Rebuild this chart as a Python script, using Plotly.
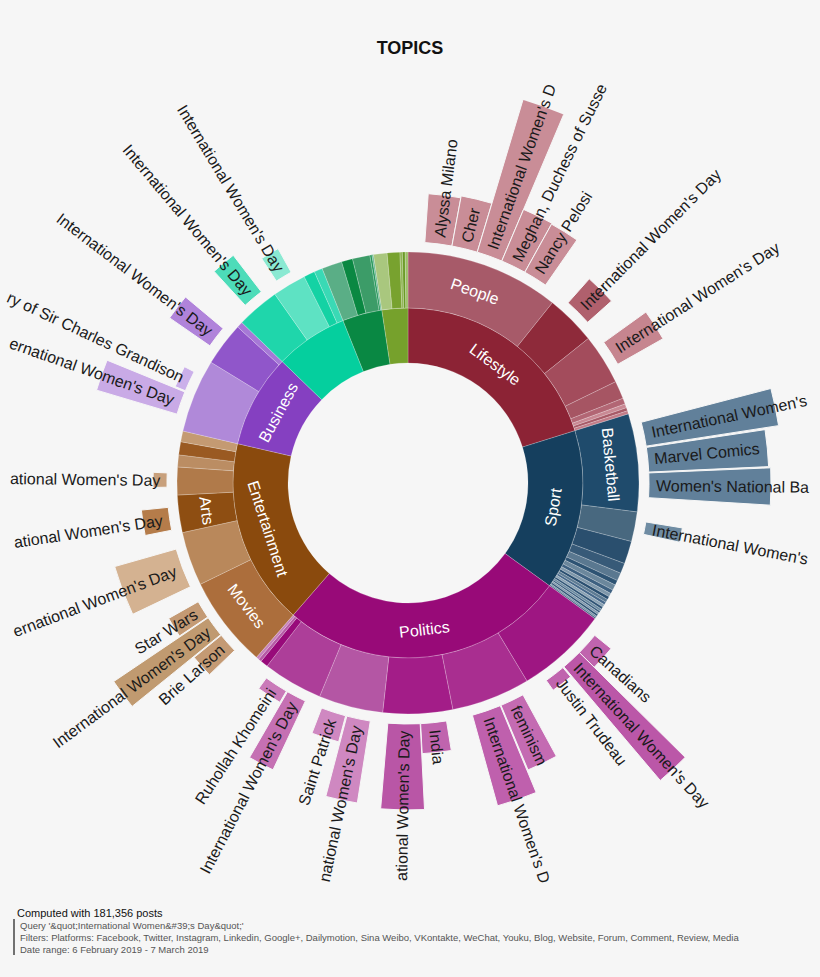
import math
import plotly.graph_objects as go

# ---------------- data ----------------
cat_labels = ["Lifestyle", "Sport", "Politics", "Entertainment", "Business", "", "", ""]
cat_values = [72.6, 53.4, 95.0, 62.0, 31.0, 24.2, 13.2, 8.6]
cat_colors = ["#8c2335", "#153f5e", "#980a78", "#8a4a0d", "#8540c1", "#05cf9e", "#098843", "#76a12c"]

sub_parent = [0] * 8 + [1] * 20 + [2] * 8 + [3] * 7 + [4] * 3 + [5] * 4 + [6] * 5 + [7] * 5
sub_labels = (["People", "", "", "", "", "", "", ""]
              + ["Basketball"] + [""] * 19
              + [""] * 8
              + ["Movies", "", "Arts", "", "", "", ""]
              + [""] * 3 + [""] * 4 + [""] * 5 + [""] * 5)
sub_values = ([38.7, 12.6, 12.7, 4.5, 1.5, 1.0, 0.8, 0.8]
              + [24.6, 7.5, 5.7, 2.6, 2.0, 1.2, 1.4, 1.0, 0.9, 0.8, 0.8, 0.7, 0.7, 0.6, 0.6, 0.5, 0.5, 0.5, 0.4, 0.4]
              + [23.0, 19.8, 17.5, 16.2, 15.1, 1.9, 0.8, 0.7]
              + [23.0, 13.6, 9.4, 7.0, 3.0, 3.3, 2.7]
              + [18.5, 11.0, 1.5]
              + [10.8, 8.5, 2.8, 2.1]
              + [5.1, 2.8, 4.4, 0.5, 0.4]
              + [3.4, 3.2, 0.6, 0.7, 0.7])
sub_colors = (["#a75a69", "#8e2a3a", "#a34c5c", "#a65563", "#b26674", "#c98994", "#a85a67", "#c27c88"]
              + ["#1f4b6c", "#48687f", "#2a4f6e", "#375a78", "#5a7890", "#2d5373", "#6b879c", "#3d6080",
                 "#7e97aa", "#2a4f70", "#5d7b93", "#46688a", "#8aa2b4", "#2f5475", "#6a8aa0", "#3a5d7e",
                 "#8099ad", "#2c5172", "#6f8ca2", "#4a6b89"]
              + ["#9e1682", "#a92e90", "#a31d88", "#b456a4", "#ad3e99", "#980a7a", "#b65aa6", "#c783bb"]
              + ["#ac6e3c", "#b9885b", "#8e4e12", "#b07a4a", "#bb8d63", "#9a5a22", "#c49a72"]
              + ["#b089d9", "#9056ca", "#a678d6"]
              + ["#1fd6ab", "#5ee2c3", "#14d2a4", "#3ad9b5"]
              + ["#5aae86", "#0a8842", "#3c9c68", "#1f9556", "#6ab892"]
              + ["#a9c77e", "#78a22f", "#8fb453", "#6a9a25", "#9cbf66"])

outer_labels = ["Alyssa Milano", "Cher", "International Women's D", "Meghan, Duchess of Susse", "Nancy Pelosi",
                "International Women's Day", "International Women's Day",
                "International Women's", "Marvel Comics", "Women's National Ba", "International Women's",
                "Canadians", "International Women's Day", "Justin Trudeau",
                "feminism", "International Women's D", "India", "ational Women's Day",
                "national Women's Day", "Saint Patrick", "International Women's Day", "Ruhollah Khomeini",
                "Brie Larson", "International Women's Day", "Star Wars",
                "ernational Women's Day", "ational Women's Day", "ational Women's Day",
                "ernational Women's Day", "ry of Sir Charles Grandison", "International Women's Day",
                "International Women's Day", "International Women's Day"]
outer_start = [4.0, 10.5, 16.7, 22.9, 29.0,
               41.6, 54.3,
               75.4, 81.5, 87.6, 99.3,
               129.2, 134.7, 140.0,
               151.5, 157.5, 170.8, 177.1,
               189.0, 195.0, 205.2, 210.3,
               226.0, 231.0, 236.2,
               244.5, 258.7, 269.0,
               286.6, 292.5, 304.7,
               317.5, 326.9]
outer_span = [6.5, 6.2, 6.2, 6.1, 5.8,
              6.6, 6.2,
              5.8, 5.9, 5.9, 3.0,
              5.5, 5.0, 5.0,
              5.8, 7.0, 6.2, 7.7,
              5.7, 6.0, 4.8, 5.7,
              4.8, 5.0, 4.3,
              9.6, 5.5, 3.4,
              5.6, 5.0, 5.2,
              5.0, 4.1]
outer_size = [49, 51, 164, 56, 55,
              32, 52,
              134, 120, 122, 37,
              21, 149, 12,
              70, 94, 30, 86,
              83, 27, 76, 13,
              35, 114, 34,
              64, 27, 14,
              84, 11, 49,
              46, 27]
outer_colors = ["#c98d97", "#c98d97", "#c98d97", "#c98d97", "#c98d97",
                "#b0606d", "#c6858f",
                "#61809a", "#61809a", "#61809a", "#6f8ca3",
                "#c064ae", "#bb57a8", "#c064ae",
                "#c46bb2", "#bf60ad", "#c064ae", "#b956a6",
                "#cf88c1", "#cf88c1", "#c570b3", "#ca7ab9",
                "#c49a74", "#c09a70", "#c49a74",
                "#d4b291", "#b57c4a", "#c8a07c",
                "#c9aae6", "#cbb0ea", "#b083da",
                "#4ddcb9", "#8ae9d2"]

# ---------------- geometry ----------------
W, H = 820, 977
CX, CY = 408, 483
RMAX = 400
R0, R1, R2, R3 = 120, 175, 231, 241
TEXT_START = 248
BG = "#f6f6f6"
FONT = "Liberation Sans, Arial, Helvetica, sans-serif"

ARIAL = {' ': 278, '!': 278, '"': 355, '#': 556, '&': 667, "'": 191, '(': 333, ')': 333, '+': 584, ',': 278,
         '-': 333, '.': 278, '/': 278, ':': 278, ';': 278,
         'A': 667, 'B': 667, 'C': 722, 'D': 722, 'E': 667, 'F': 611, 'G': 778, 'H': 722, 'I': 278, 'J': 500,
         'K': 667, 'L': 556, 'M': 833, 'N': 722, 'O': 778, 'P': 667, 'Q': 778, 'R': 722, 'S': 667, 'T': 611,
         'U': 722, 'V': 667, 'W': 944, 'X': 667, 'Y': 667, 'Z': 611,
         'a': 556, 'b': 556, 'c': 500, 'd': 556, 'e': 556, 'f': 278, 'g': 556, 'h': 556, 'i': 222, 'j': 222,
         'k': 500, 'l': 222, 'm': 833, 'n': 556, 'o': 556, 'p': 556, 'q': 556, 'r': 333, 's': 500, 't': 278,
         'u': 556, 'v': 500, 'w': 722, 'x': 500, 'y': 500, 'z': 500}


def text_width(s, size):
    return sum(ARIAL.get(c, 556) for c in s) * size / 1000.0


def to_paper(r, theta):
    t = math.radians(theta)
    x = CX + r * math.sin(t)
    y = CY - r * math.cos(t)
    return x / W, 1 - y / H


def cum_centers(values):
    centers, starts = [], []
    acc = 0.0
    for v in values:
        starts.append(acc)
        centers.append(acc + v / 2.0)
        acc += v
    return starts, centers


def tangential_angle(theta):
    a = theta % 360
    if 90 < a < 270:
        return a - 180
    if a >= 270:
        return a - 360
    return a


def radial_angle(theta):
    a = theta % 360
    return a - 90 if a <= 180 else a - 270


fig = go.Figure()

# ring 1
_, c1 = cum_centers(cat_values)
fig.add_trace(go.Barpolar(theta=c1, width=cat_values, r=[R1 - R0] * len(cat_values), base=R0,
                          marker=dict(color=cat_colors, line=dict(color="rgba(255,255,255,0.35)", width=0.6)),
                          hoverinfo="skip", showlegend=False))
# ring 2
_, c2 = cum_centers(sub_values)
fig.add_trace(go.Barpolar(theta=c2, width=sub_values, r=[R2 - R1] * len(sub_values), base=R1,
                          marker=dict(color=sub_colors, line=dict(color="rgba(255,255,255,0.35)", width=0.6)),
                          hoverinfo="skip", showlegend=False))
# outer label boxes
c3 = [s + w / 2.0 for s, w in zip(outer_start, outer_span)]
fig.add_trace(go.Barpolar(theta=c3, width=outer_span, r=outer_size, base=R3,
                          marker=dict(color=outer_colors, line=dict(color=BG, width=1)),
                          hoverinfo="skip", showlegend=False))

annotations = []
# inner labels
for labels, centers, rad in ((cat_labels, c1, (R0 + R1) / 2.0), (sub_labels, c2, (R1 + R2) / 2.0)):
    for lab, th in zip(labels, centers):
        if not lab:
            continue
        x, y = to_paper(rad, th)
        annotations.append(dict(x=x, y=y, xref="paper", yref="paper", text=lab, showarrow=False,
                                textangle=tangential_angle(th), xanchor="center", yanchor="middle",
                                font=dict(family=FONT, size=16, color="white")))
# outer labels
for lab, th in zip(outer_labels, c3):
    w = text_width(lab, 16)
    x, y = to_paper(TEXT_START + w / 2.0, th)
    annotations.append(dict(x=x, y=y, xref="paper", yref="paper", text=lab, showarrow=False,
                            textangle=radial_angle(th), xanchor="center", yanchor="middle",
                            font=dict(family=FONT, size=16, color="#1a1a1a")))

# footnote
annotations.append(dict(x=15 / W, y=1 - 913 / H, xref="paper", yref="paper", xanchor="left", yanchor="middle",
                        text="Computed with 181,356 posts", showarrow=False,
                        font=dict(family=FONT, size=11, color="#111")))
foot_lines = ["Query '&amp;quot;International Women&amp;#39;s Day&amp;quot;'",
              "Filters: Platforms: Facebook, Twitter, Instagram, Linkedin, Google+, Dailymotion, Sina Weibo, VKontakte, WeChat, Youku, Blog, Website, Forum, Comment, Review, Media",
              "Date range: 6 February 2019 - 7 March 2019"]
for i, t in enumerate(foot_lines):
    annotations.append(dict(x=18 / W, y=1 - (925 + 12 * i) / H, xref="paper", yref="paper", xanchor="left",
                            yanchor="middle", text=t, showarrow=False,
                            font=dict(family=FONT, size=9.5, color="#555")))

fig.update_layout(
    width=W, height=H, autosize=False,
    margin=dict(l=0, r=0, t=0, b=0),
    paper_bgcolor=BG, plot_bgcolor=BG,
    title=dict(text="<b>TOPICS</b>", x=0.5, xanchor="center", y=1 - 48 / H, yanchor="middle",
               font=dict(family=FONT, size=18, color="#111")),
    polar=dict(domain=dict(x=[(CX - RMAX) / W, (CX + RMAX) / W], y=[1 - (CY + RMAX) / H, 1 - (CY - RMAX) / H]),
               bgcolor="rgba(0,0,0,0)", bargap=0,
               radialaxis=dict(visible=False, range=[0, RMAX]),
               angularaxis=dict(visible=False, rotation=90, direction="clockwise")),
    annotations=annotations,
    shapes=[dict(type="line", xref="paper", yref="paper", x0=14 / W, x1=14 / W, y0=1 - 919 / H, y1=1 - 955 / H,
                 line=dict(color="#444", width=1.5))],
)

fig.write_html("out.html")
